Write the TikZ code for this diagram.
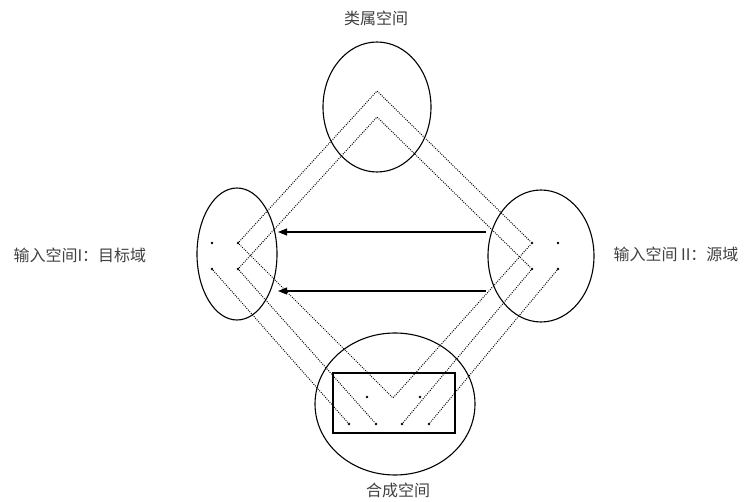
\documentclass[tikz,border=0pt]{standalone}
\usepackage{fontspec}
\newfontfamily\cjk{Noto Sans CJK SC}
\usetikzlibrary{shapes.geometric,arrows.meta,positioning}

\begin{document}
\begin{tikzpicture}[
    x=1pt, y=-1pt,
    space/.style={ellipse, draw, line width=1.1pt, inner sep=0pt},
    pt/.style={circle, fill=black, inner sep=0pt, minimum size=2.8pt},
    label/.style={font=\cjk\fontsize{16}{19}\selectfont, text=black!75},
    link/.style={dash pattern=on 0.9pt off 1.3pt, line width=1pt},
    arrow/.style={-{Triangle[length=9pt,width=7pt]}, line width=1.1pt}
]
\useasboundingbox (0,0) rectangle (748,502);

% the four spaces
\node[space, minimum width=108pt, minimum height=130pt] (generic) at (377,107) {};
\node[space, minimum width=80pt, minimum height=132pt] (target) at (237,254) {};
\node[space, minimum width=106pt, minimum height=132pt] (source) at (541,256) {};
\node[space, minimum width=160pt, minimum height=142pt] (blend) at (395,404) {};
\node[draw, line width=1.3pt, minimum width=122pt, minimum height=60pt, inner sep=0pt] (frame) at (394,403) {};

% labels
\node[label] (generic_lbl) at (376,18) {类属空间};
\node[label, anchor=west] (target_lbl) at (10,255) {输入空间I：目标域};
\node[label, anchor=west] (source_lbl) at (610,254) {输入空间 II：源域};
\node[label] (blend_lbl) at (398,490) {合成空间};

% elements in the input spaces
\node[pt] (t1) at (212,243) {};
\node[pt] (t2) at (238,243) {};
\node[pt] (t3) at (212,269) {};
\node[pt] (t4) at (238,269) {};
\node[pt] (s1) at (532,243) {};
\node[pt] (s2) at (558,243) {};
\node[pt] (s3) at (532,269) {};
\node[pt] (s4) at (558,269) {};

% elements in the generic space
\coordinate (g1) at (377,91);
\coordinate (g2) at (377,117);

% elements in the blend
\node[pt] (b1) at (367,397) {};
\node[pt] (b2) at (420,397) {};
\coordinate (bv) at (393,398);
\node[pt] (b3) at (349,424) {};
\node[pt] (b4) at (376,424) {};
\node[pt] (b5) at (402,424) {};
\node[pt] (b6) at (429,424) {};

% projections to the generic space
\draw[link] (t2) -- (g1) -- (s1);
\draw[link] (t4) -- (g2) -- (s3);

% projections to the blend
\draw[link] (t2) -- (bv) -- (s1);
\draw[link] (t3) -- (b3);
\draw[link] (t4) -- (b4);
\draw[link] (s3) -- (b5);
\draw[link] (s4) -- (b6);

% mapping from source to target
\coordinate (m1a) at (486,232);
\coordinate (m1b) at (278,232);
\coordinate (m2a) at (486,291);
\coordinate (m2b) at (278,291);
\draw[arrow] (m1a) -- (m1b);
\draw[arrow] (m2a) -- (m2b);

\end{tikzpicture}
\end{document}
